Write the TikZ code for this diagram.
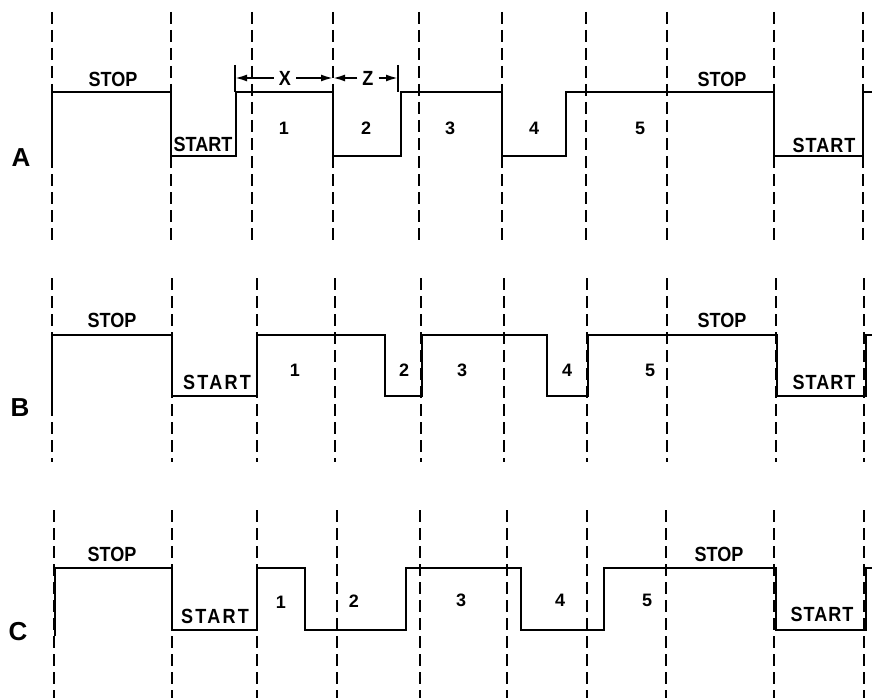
\documentclass[tikz,border=0pt]{standalone}
\usepackage{fontspec}
\setmainfont{Liberation Sans}
\newfontfamily\lblfont[FakeStretch=0.88]{Liberation Sans Bold}
\newfontfamily\digfont{Liberation Sans Bold}
\usetikzlibrary{arrows.meta}
\tikzset{
  wave/.style={line width=2.8pt, line join=miter},
  gridline/.style={line width=1.9pt, dash pattern=on 12pt off 6pt},
  word/.style={inner sep=0pt, font=\lblfont\fontsize{20.5}{20.5}\selectfont},
  wideword/.style={inner sep=0pt, font=\lblfont\fontsize{20.5}{20.5}\selectfont\addfontfeatures{LetterSpace=11}},
  midword/.style={inner sep=0pt, font=\lblfont\fontsize{20.5}{20.5}\selectfont\addfontfeatures{LetterSpace=5}},
  digit/.style={inner sep=0pt, font=\digfont\fontsize{18}{18}\selectfont},
  rowname/.style={inner sep=0pt, font=\digfont\fontsize{26}{26}\selectfont},
  dimtick/.style={line width=1.9pt},
  dimarrow/.style={line width=1.9pt, -{Latex[length=12pt,width=7pt]}, shorten <=5pt},
}
\begin{document}
\begin{tikzpicture}[x=1pt,y=-1pt]
\useasboundingbox (0,0) rectangle (872,698);

% ---------- dashed time grid ----------
\foreach \x in {52,171,252,333,419,502,586,667,774,863}
  \draw[gridline] (\x,12) -- (\x,241);
\foreach \x in {52,172,257,335,421,504,587,667,776,864}
  \draw[gridline] (\x,278) -- (\x,462);
\foreach \x in {54,172,257,337,420,507,587,666,774,864}
  \draw[gridline] (\x,510) -- (\x,698);

% ---------- row A ----------
\node[rowname] (rA) at (21,158) {A};
\draw[wave] (52,163) -- (52,92) -- (171,92) -- (171,156) -- (236,156) -- (236,92)
  -- (333,92) -- (333,156) -- (401,156) -- (401,92) -- (502,92) -- (502,156)
  -- (566,156) -- (566,92) -- (774,92) -- (774,156) -- (863,156) -- (863,92) -- (872,92);
\node[word] (aStop1) at (113,79) {STOP};
\node[word] (aStart1) at (203,144) {START};
\node[digit] (a1) at (284,128) {1};
\node[digit] (a2) at (366,128) {2};
\node[digit] (a3) at (450,128) {3};
\node[digit] (a4) at (534,128) {4};
\node[digit] (a5) at (640,128) {5};
\node[word] (aStop2) at (722,79) {STOP};
\node[midword] (aStart2) at (824,145) {START};
% dimension X and Z
\coordinate (tL) at (235,78);
\coordinate (tM) at (333,78);
\coordinate (tR) at (398,78);
\draw[dimtick] (235,65) -- (235,92);
\draw[dimtick] (398,65) -- (398,92);
\node[word] (dimX) at (285,78) {X};
\node[word] (dimZ) at (368,78) {Z};
\draw[dimarrow] (dimX) -- (tL);
\draw[dimarrow] (dimX) -- (tM);
\draw[dimarrow] (dimZ) -- (tM);
\draw[dimarrow] (dimZ) -- (tR);

% ---------- row B ----------
\node[rowname] (rB) at (20,408) {B};
\draw[wave] (52,408) -- (52,335) -- (172,335) -- (172,396) -- (257,396) -- (257,335)
  -- (385,335) -- (385,396) -- (422,396) -- (422,335) -- (547,335) -- (547,396)
  -- (588,396) -- (588,335) -- (777,335) -- (777,396) -- (866,396) -- (866,335) -- (872,335);
\node[word] (bStop1) at (112,320) {STOP};
\node[wideword] (bStart1) at (217,382) {START};
\node[digit] (b1) at (295,370) {1};
\node[digit] (b2) at (404,370) {2};
\node[digit] (b3) at (462,370) {3};
\node[digit] (b4) at (567,370) {4};
\node[digit] (b5) at (650,370) {5};
\node[word] (bStop2) at (722,320) {STOP};
\node[midword] (bStart2) at (824,382) {START};

% ---------- row C ----------
\node[rowname] (rC) at (18,632) {C};
\draw[wave] (55,636) -- (55,568) -- (172,568) -- (172,630) -- (257,630) -- (257,568)
  -- (305,568) -- (305,630) -- (406,630) -- (406,568) -- (521,568) -- (521,630)
  -- (604,630) -- (604,568) -- (776,568) -- (776,630) -- (866,630) -- (866,568) -- (872,568);
\node[word] (cStop1) at (112,554) {STOP};
\node[wideword] (cStart1) at (215,616) {START};
\node[digit] (c1) at (281,602) {1};
\node[digit] (c2) at (354,601) {2};
\node[digit] (c3) at (461,600) {3};
\node[digit] (c4) at (560,600) {4};
\node[digit] (c5) at (647,600) {5};
\node[word] (cStop2) at (719,554) {STOP};
\node[midword] (cStart2) at (822,614) {START};
\end{tikzpicture}
\end{document}
